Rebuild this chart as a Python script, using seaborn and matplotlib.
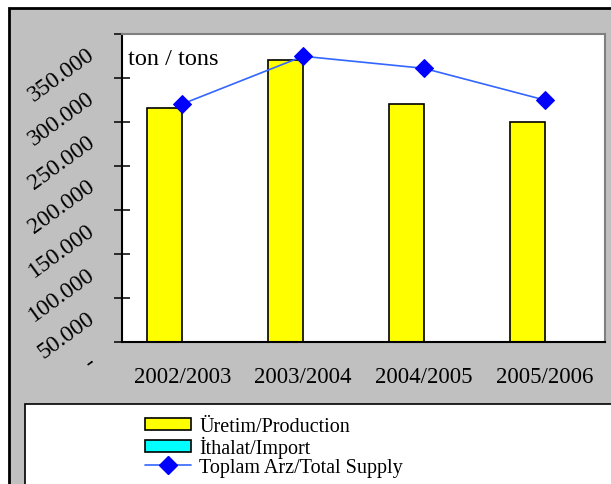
import numpy as np
import pandas as pd
import matplotlib
matplotlib.use("Agg")
import matplotlib.pyplot as plt
import matplotlib.transforms as mtransforms
from matplotlib.patches import Rectangle, Patch
from matplotlib.lines import Line2D
import seaborn as sns

# Veriler (ton)
years = ["2002/2003", "2003/2004", "2004/2005", "2005/2006"]
production = [266000, 320500, 270000, 249500]
imports = [0, 0, 0, 0]
total_supply = [270500, 324700, 311000, 275000]

series_names = ["Üretim/Production", "İthalat/Import", "Toplam Arz/Total Supply"]
ytick_values = [0, 50000, 100000, 150000, 200000, 250000, 300000, 350000]
ytick_labels = ["-", "50.000", "100.000", "150.000", "200.000", "250.000", "300.000", "350.000"]
unit_label = "ton / tons"

sns.set_theme(style="white")
plt.rcParams["font.family"] = ["Liberation Serif", "DejaVu Serif"]
plt.rcParams["text.color"] = "black"

W, H = 611, 485
fig = plt.figure(figsize=(W / 100, H / 100), dpi=100)
fig.patch.set_facecolor("white")

# gri arka panel
panel = Rectangle((9 / W, -0.1), 1.2, (H - 9) / H + 0.1, transform=fig.transFigure,
                  facecolor="#c0c0c0", edgecolor="black", linewidth=2, zorder=-2)
fig.add_artist(panel)

# lejant kutusu
legbox = Rectangle((25 / W, -0.1), 1.2, (H - 405) / H + 0.1, transform=fig.transFigure,
                   facecolor="white", edgecolor="black", linewidth=1.2, zorder=-1)
fig.add_artist(legbox)

ax = fig.add_axes([122 / W, 1 - 343 / H, (605 - 122) / W, (343 - 35) / H])
ax.set_facecolor("white")

bars = pd.DataFrame({
    "year": years * 2,
    "value": production + imports,
    "series": [series_names[0]] * len(years) + [series_names[1]] * len(years),
})
sns.barplot(data=bars, x="year", y="value", hue="series",
            palette=["#ffff00", "#00ffff"], saturation=1, width=0.58,
            edgecolor="black", linewidth=1.2, legend=False, ax=ax)

line = pd.DataFrame({"year": years, "value": total_supply})
sns.lineplot(data=line, x="year", y="value", color="#3366ff", linewidth=1.2,
             marker="D", markersize=9, markerfacecolor="#0000ff",
             markeredgecolor="#0000ff", ax=ax)

ax.set_xlim(-0.5, len(years) - 0.5)
ax.set_ylim(0, 350000)
ax.set_yticks(ytick_values)
ax.set_yticklabels(ytick_labels)
ax.set_xticks(range(len(years)))
ax.set_xticklabels(years)
ax.set_xticks(np.arange(len(years) + 1) - 0.5, minor=True)
ax.set_xlabel("")
ax.set_ylabel("")

ax.tick_params(axis="x", which="major", length=0, pad=17, labelsize=16.5,
               labelcolor="black")
ax.tick_params(axis="x", which="minor", direction="inout", length=9, width=1.1, color="black")
ax.tick_params(axis="y", direction="inout", length=11, width=1.1, color="black",
               pad=20, labelsize=17, labelcolor="black", left=True)

for lab in ax.get_yticklabels():
    lab.set_rotation(36)
    lab.set_rotation_mode("anchor")
    lab.set_ha("right")
    lab.set_va("top")
    lab.set_transform(lab.get_transform() +
                      mtransforms.ScaledTranslation(0, -9 / 100, fig.dpi_scale_trans))

for side in ["left", "bottom"]:
    ax.spines[side].set_color("black")
    ax.spines[side].set_linewidth(1.5)
for side in ["top", "right"]:
    ax.spines[side].set_color("#808080")
    ax.spines[side].set_linewidth(1.5)
ax.spines["bottom"].set_zorder(5)

ax.text(6 / 483, 0.9026, unit_label, transform=ax.transAxes, fontsize=17.5,
        ha="left", va="baseline", color="black")

handles = [
    Patch(facecolor="#ffff00", edgecolor="black", linewidth=1.2),
    Patch(facecolor="#00ffff", edgecolor="black", linewidth=1.2),
    Line2D([], [], color="#3366ff", linewidth=1.2, marker="D", markersize=9,
           markerfacecolor="#0000ff", markeredgecolor="#0000ff"),
]
fig.legend(handles, series_names, loc="upper left",
           bbox_to_anchor=(145 / W, 1 - 418 / H), frameon=False, fontsize=14.5,
           handlelength=2.3, handleheight=0.6, handletextpad=0.4,
           labelspacing=0.0, borderpad=0, borderaxespad=0)

fig.savefig("out.png", dpi=100)
